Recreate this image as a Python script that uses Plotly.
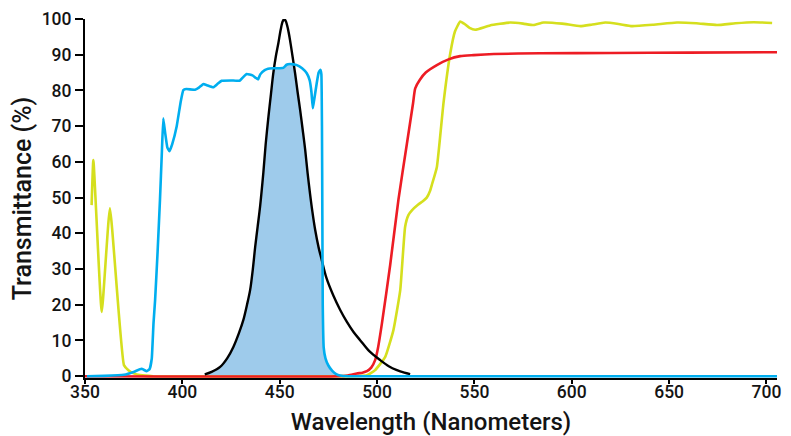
import numpy as np
import plotly.graph_objects as go

# ---- data ----
yellow_x = [353.4, 354.3, 358.6, 362.8, 370.0, 372.3, 375.0, 378.3, 385, 480, 494.8, 499.0, 504.2, 508.4, 511.9,
            514.4, 516.1, 518.0, 521.0, 523.5, 525.5, 527.3, 528.1, 530.7, 534.1, 537.6, 540.0, 542.7, 545.0,
            547.5, 550.4, 558.0, 568.4, 575.0, 580.4, 585.5, 595.0, 604.4, 610.0, 617.2, 624.0, 631.0, 642.0,
            654.0, 664.0, 674.6, 684.0, 693.4, 702.9]
yellow_y = [47.9, 60.5, 18.0, 47.0, 3.1, 1.7, 0.8, 0.3, 0.0, 0.0, 0.3, 1.7, 5.4, 12.9, 24.1,
            41.8, 45.1, 46.5, 48.0, 49.0, 50.0, 52.0, 53.5, 58.5, 76.4, 90.4, 96.5, 99.3, 98.6,
            97.5, 97.0, 98.2, 99.0, 98.7, 98.3, 99.0, 98.7, 98.0, 98.4, 99.0, 98.6, 98.0, 98.4,
            99.0, 98.8, 98.3, 98.8, 99.1, 98.9]

red_x = [350, 480, 485, 489.6, 492.5, 494.8, 497.0, 499.0, 500.5, 502.5, 506.7, 511.0, 515.3, 518.5, 519.6,
         522.0, 525.0, 530.7, 536.7, 542.7, 549.6, 560.0, 583.8, 620.0, 660.0, 705.4]
red_y = [0.0, 0.0, 0.2, 0.75, 1.0, 1.4, 2.4, 4.5, 8.0, 14.8, 31.0, 49.5, 65.0, 76.5, 80.6,
         83.0, 85.0, 87.1, 88.7, 89.6, 89.9, 90.2, 90.4, 90.5, 90.6, 90.7]

blue_x = [351, 360, 370, 375, 379, 381.7, 383.2, 384.3, 385.2, 386.0, 387.3, 388.5, 389.5, 390.2, 391.2,
          392.3, 393.4, 394.8, 397.1, 399.2, 400.5, 402.0, 406.5, 408.5, 410.8, 413.0, 415.9, 418.0, 420.2,
          425.0, 429.4, 431.0, 433.1, 436.0, 438.9, 440.0, 442.3, 444.0, 446.7, 450.0, 451.8, 453.5, 455.3,
          457.0, 458.8, 461.5, 463.9, 465.4, 466.3, 467.0, 467.6, 468.3, 469.0, 470.0, 470.9, 471.4, 471.7,
          471.9, 472.1, 472.6, 473.5, 475.0, 477.0, 479.0, 481.0, 485.0, 705.4]
blue_y = [0.0, 0.1, 0.4, 1.2, 2.1, 1.4, 2.0, 5.0, 15.0, 21.3, 35.0, 49.3, 63.0, 72.2, 68.0,
          64.0, 63.0, 65.0, 70.0, 77.0, 80.1, 80.4, 80.2, 80.8, 81.8, 81.4, 80.9, 81.8, 82.7,
          82.8, 82.7, 83.6, 84.6, 84.2, 83.1, 84.5, 85.7, 86.1, 86.2, 86.2, 86.3, 87.2, 87.4,
          87.3, 87.1, 86.2, 84.8, 82.8, 79.5, 75.0, 77.0, 79.5, 82.0, 85.0, 85.8, 84.5, 70.0,
          45.0, 20.0, 8.0, 5.0, 3.0, 1.5, 0.6, 0.2, 0.0, 0.0]

black_x = [411.5, 415.0, 419.4, 423.0, 426.2, 429.0, 431.3, 433.2, 434.8, 436.2, 437.4, 438.7, 439.9, 441.6,
           442.8, 444.2, 445.5, 446.7, 448.0, 449.3, 450.5, 451.5, 452.3, 453.2, 454.2, 455.3, 456.6, 457.9,
           459.2, 460.5, 461.8, 463.1, 464.3, 465.6, 466.8, 468.2, 470.0, 471.6, 474.0, 477.6, 481.0, 484.5,
           488.0, 491.3, 496.0, 501.6, 506.0, 510.2, 514.0, 517.0]
black_y = [0.5, 1.2, 2.6, 5.0, 8.2, 12.0, 15.7, 20.0, 24.1, 30.0, 36.2, 42.0, 47.4, 57.0,
           65.0, 72.6, 79.0, 84.8, 89.5, 93.2, 97.0, 99.3, 100.0, 99.3, 97.3, 94.1, 89.5, 84.8,
           79.5, 74.5, 69.0, 63.3, 57.0, 51.0, 46.0, 41.0, 36.0, 32.5, 27.5, 22.5, 18.6, 15.2,
           12.3, 10.1, 7.0, 4.5, 2.8, 1.7, 1.0, 0.6]

x_ticks = [350, 400, 450, 500, 550, 600, 650, 700]
y_ticks = [0, 10, 20, 30, 40, 50, 60, 70, 80, 90, 100]

# overlap region (light through the filter): min of emission and filter curves
grid = np.linspace(black_x[0], 481.0, 500)
fill_y = np.minimum(np.interp(grid, black_x, black_y), np.interp(grid, blue_x, blue_y))

fig = go.Figure()
fig.add_trace(go.Scatter(x=grid, y=fill_y, mode="lines", line=dict(width=0),
                         fill="tozeroy", fillcolor="#9ecbeb", hoverinfo="skip"))
fig.add_trace(go.Scatter(x=yellow_x, y=yellow_y, mode="lines",
                         line=dict(color="#d5df1e", width=2.6, shape="spline", smoothing=0.4)))
fig.add_trace(go.Scatter(x=red_x, y=red_y, mode="lines",
                         line=dict(color="#ed1c24", width=2.6, shape="spline", smoothing=0.6)))
fig.add_trace(go.Scatter(x=black_x, y=black_y, mode="lines",
                         line=dict(color="#000000", width=2.4, shape="spline", smoothing=0.9)))
fig.add_trace(go.Scatter(x=blue_x, y=blue_y, mode="lines",
                         line=dict(color="#00aeef", width=2.6, shape="spline", smoothing=0.3)))

font_family = "Roboto, Liberation Sans, Arial, sans-serif"
txt = "#141414"
# page body has an 8px default margin, so the figure is sized/offset to compensate
fig.update_layout(
    width=783, height=428,
    margin=dict(l=77, r=14, t=11, b=58, pad=0),
    paper_bgcolor="white", plot_bgcolor="white",
    showlegend=False,
    font=dict(family=font_family, color=txt),
)
fig.update_xaxes(
    range=[350, 705.4], tickvals=x_ticks, ticktext=[str(v) for v in x_ticks],
    automargin=False,
    showgrid=False, zeroline=False, showline=True, linecolor="black", linewidth=2,
    ticks="outside", ticklen=4, tickwidth=1.5, tickcolor="black",
    ticklabelstandoff=-7,
    tickfont=dict(size=17.5, family=font_family, color=txt, weight=500),
    title=dict(text="Wavelength (Nanometers)",
               font=dict(size=24, family=font_family, color=txt, weight=500),
               standoff=24),
)
fig.update_yaxes(
    range=[-0.5, 100], tickvals=y_ticks, ticktext=[str(v) for v in y_ticks],
    automargin=False,
    showgrid=False, zeroline=False, showline=True, linecolor="black", linewidth=2,
    ticks="outside", ticklen=8, tickwidth=1.5, tickcolor="black",
    tickfont=dict(size=17.5, family=font_family, color=txt, weight=500),
    title=dict(text="Transmittance (%)",
               font=dict(size=25, family=font_family, color=txt, weight=500),
               standoff=4),
)
fig.write_html("out.html")
